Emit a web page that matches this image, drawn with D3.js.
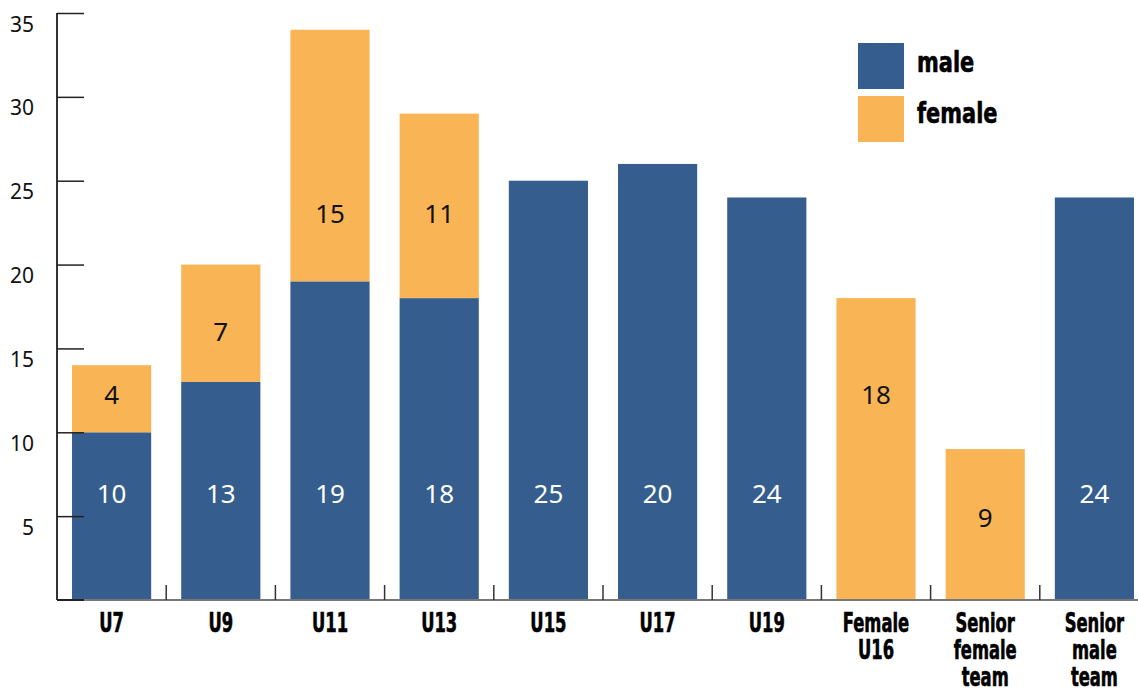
<!DOCTYPE html>
<html><head><meta charset="utf-8">
<script src="https://cdn.jsdelivr.net/npm/d3@7"></script>
<style>
body{margin:0;background:#fff;}
.cond{font-family:"DejaVu Sans Condensed","DejaVu Sans",sans-serif;font-weight:bold;stroke:#000;stroke-width:0.6px;}
</style>
</head><body>
<svg id="chart" width="1138" height="688"></svg>
<script>
const categories = ["U7","U9","U11","U13","U15","U17","U19","Female U16","Senior female team","Senior male team"];
const categoryLines = [["U7"],["U9"],["U11"],["U13"],["U15"],["U17"],["U19"],["Female","U16"],["Senior","female","team"],["Senior","male","team"]];
const maleValues =   [10,13,19,18,25,26,24,0,0,24];
const femaleValues = [4,7,15,11,0,0,0,18,9,0];
const maleLabels =   ["10","13","19","18","25","20","24","","","24"];
const femaleLabels = ["4","7","15","11","","","","18","9",""];
const yTicks = [5,10,15,20,25,30,35];
const seriesNames = ["male","female"];

const blue = "#355E8E", orange = "#F8B455";
const svg = d3.select("#chart");
const y = d3.scaleLinear().domain([0,35]).range([600,13]);
const x = d3.scaleBand().domain(categories).range([57,1149]).paddingInner(0.275).paddingOuter(0.1375);

// bars
const g = svg.append("g");
categories.forEach((c,i)=>{
  if(maleValues[i]>0) g.append("rect").attr("x",x(c)).attr("width",x.bandwidth())
    .attr("y",y(maleValues[i])).attr("height",y(0)-y(maleValues[i])).attr("fill",blue);
  if(femaleValues[i]>0) g.append("rect").attr("x",x(c)).attr("width",x.bandwidth())
    .attr("y",y(maleValues[i]+femaleValues[i])).attr("height",y(maleValues[i])-y(maleValues[i]+femaleValues[i])).attr("fill",orange);
});

// value label layout (vertical anchor in axis units)
const maleAnchor =   [6.3,6.3,6.3,6.3,6.3,6.3,6.3,0,0,6.3];
const femaleAnchor = [12.2,16.0,23.0,23.0,0,0,0,12.2,4.9,0];
const labelFont = "'Noto Sans',sans-serif";
categories.forEach((c,i)=>{
  const cx = x(c)+x.bandwidth()/2;
  if(maleLabels[i]) svg.append("text").attr("x",cx).attr("y",y(maleAnchor[i])).attr("dy","0.35em")
    .attr("text-anchor","middle").attr("fill","#fff").style("font-family",labelFont).style("font-size","26px").text(maleLabels[i]);
  if(femaleLabels[i]) svg.append("text").attr("x",cx).attr("y",y(femaleAnchor[i])).attr("dy","0.35em")
    .attr("text-anchor","middle").attr("fill","#111").style("font-family",labelFont).style("font-size","26px").text(femaleLabels[i]);
});

// y axis
const yAxis = svg.append("g").attr("transform","translate(57,0)")
  .call(d3.axisRight(y).tickValues(yTicks).tickSize(27).tickFormat(d3.format("d")));
yAxis.select(".domain").attr("d","M0,13V600").attr("stroke","#333").attr("stroke-width",2);
yAxis.selectAll(".tick line").attr("stroke","#222").attr("stroke-width",1.5);
yAxis.selectAll(".tick text").attr("x",-23).attr("y",18).attr("dy",null).attr("text-anchor","end")
  .style("font-family",labelFont).style("font-size","21px").attr("fill","#111");

// x axis line & boundary ticks
svg.append("line").attr("x1",57).attr("x2",1138).attr("y1",600).attr("y2",600).attr("stroke","#777").attr("stroke-width",2);
svg.append("line").attr("x1",57).attr("x2",84).attr("y1",600).attr("y2",600).attr("stroke","#222").attr("stroke-width",2);
const step = x.step();
categories.forEach((c,i)=>{
  if(i===0) return;
  const bx = x(c) - x.paddingInner()*step/2;
  svg.append("line").attr("x1",bx).attr("x2",bx).attr("y1",585).attr("y2",600).attr("stroke","#333").attr("stroke-width",1.5);
});

// x labels
categories.forEach((c,i)=>{
  const cx = x(c)+x.bandwidth()/2;
  const t = svg.append("text").attr("class","cond")
    .attr("transform",`translate(${cx},632) scale(0.7,1)`)
    .attr("text-anchor","middle").style("font-size","26px").attr("fill","#000");
  categoryLines[i].forEach((ln,j)=>t.append("tspan").attr("x",0).attr("y",27*j).text(ln));
});

// legend
const lg = svg.append("g");
seriesNames.forEach((s,i)=>{
  lg.append("rect").attr("x",858).attr("y",43+53*i).attr("width",46).attr("height",46).attr("fill",i===0?blue:orange);
  lg.append("text").attr("class","cond").attr("transform",`translate(917,${72+51*i}) scale(0.83,1)`)
    .style("font-size","28px").attr("fill","#000").text(s);
});
</script>
</body></html>
